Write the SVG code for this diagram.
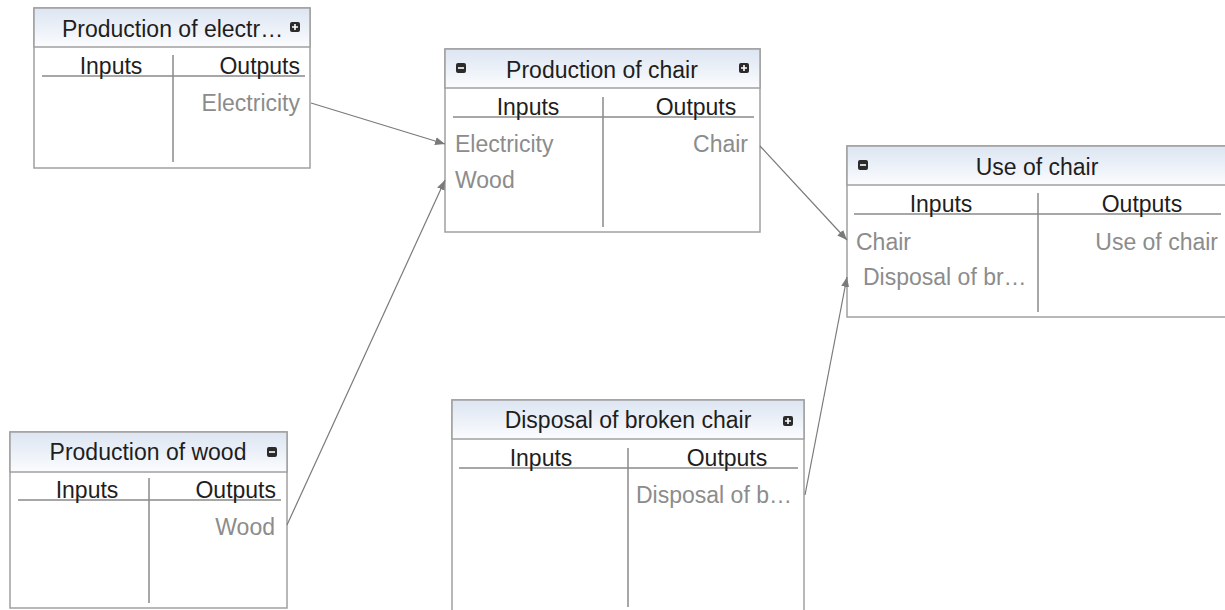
<svg xmlns="http://www.w3.org/2000/svg" width="1225" height="610" viewBox="0 0 1225 610">
<defs>
<linearGradient id="hdr" x1="0" y1="0" x2="0" y2="1">
<stop offset="0" stop-color="#dce5f2"/>
<stop offset="1" stop-color="#fbfcfe"/>
</linearGradient>
<marker id="arr" viewBox="0 0 10 10" refX="10" refY="5" markerWidth="10" markerHeight="10" markerUnits="userSpaceOnUse" orient="auto">
<path d="M0,1 L10,5 L0,9 Z" fill="#7a7a7a"/>
</marker>
<g id="plus"><rect x="-5" y="-5" width="10" height="10" rx="2" fill="#2b2b2b"/><path d="M-3,0 H3 M0,-3 V3" stroke="#fff" stroke-width="1.6"/></g>
<g id="minus"><rect x="-5" y="-5" width="10" height="10" rx="2" fill="#2b2b2b"/><path d="M-3,0 H3" stroke="#fff" stroke-width="1.6"/></g>
</defs>
<style>
text{font-family:"Liberation Sans",Arial,sans-serif;font-size:23px}
.box{fill:#fff;stroke:#a0a0a0;stroke-width:1.5}
.hdr{fill:url(#hdr);stroke:#a0a0a0;stroke-width:1.5}
.ln{stroke:#8a8a8a;stroke-width:1.5;fill:none}
.t{fill:#1e1e1e}
.g{fill:#8c8c8c}
.m{text-anchor:middle}
.e{text-anchor:end}
.c{stroke:#7a7a7a;stroke-width:1.2;fill:none;marker-end:url(#arr)}
</style>
<rect width="1225" height="610" fill="#fff"/>

<g id="node-electricity">
<rect class="box" x="34" y="8" width="276" height="160"/>
<rect class="hdr" x="34" y="8" width="276" height="39"/>
<text class="t" x="62" y="37">Production of electr…</text>
<use href="#plus" x="295" y="27"/>
<line class="ln" x1="173" y1="55" x2="173" y2="162"/>
<line class="ln" x1="42" y1="76" x2="305" y2="76"/>
<text class="t m" x="111" y="74">Inputs</text>
<text class="t e" x="300" y="74">Outputs</text>
<text class="g e" x="300" y="111">Electricity</text>
</g>

<g id="node-chair">
<rect class="box" x="445" y="49" width="315" height="183"/>
<rect class="hdr" x="445" y="49" width="315" height="39"/>
<text class="t m" x="602" y="78">Production of chair</text>
<use href="#minus" x="461" y="68"/>
<use href="#plus" x="744" y="68"/>
<line class="ln" x1="603" y1="97" x2="603" y2="227"/>
<line class="ln" x1="453" y1="117" x2="754" y2="117"/>
<text class="t m" x="528" y="115">Inputs</text>
<text class="t m" x="696" y="115">Outputs</text>
<text class="g" x="455" y="152">Electricity</text>
<text class="g" x="455" y="188">Wood</text>
<text class="g e" x="748" y="152">Chair</text>
</g>

<g id="node-use">
<rect class="box" x="847" y="146" width="400" height="171"/>
<rect class="hdr" x="847" y="146" width="400" height="39"/>
<text class="t m" x="1037" y="175">Use of chair</text>
<use href="#minus" x="863" y="165"/>
<line class="ln" x1="1038" y1="193" x2="1038" y2="312"/>
<line class="ln" x1="854" y1="214" x2="1221" y2="214"/>
<text class="t m" x="941" y="212">Inputs</text>
<text class="t m" x="1142" y="212">Outputs</text>
<text class="g" x="856" y="250">Chair</text>
<text class="g" x="863" y="285">Disposal of br…</text>
<text class="g e" x="1218" y="250">Use of chair</text>
</g>

<g id="node-wood">
<rect class="box" x="10" y="432" width="277" height="176"/>
<rect class="hdr" x="10" y="432" width="277" height="40"/>
<text class="t m" x="148" y="460">Production of wood</text>
<use href="#minus" x="272" y="452"/>
<line class="ln" x1="149" y1="478" x2="149" y2="603"/>
<line class="ln" x1="18" y1="500" x2="281" y2="500"/>
<text class="t m" x="87" y="498">Inputs</text>
<text class="t e" x="276" y="498">Outputs</text>
<text class="g e" x="275" y="535">Wood</text>
</g>

<g id="node-disposal">
<rect class="box" x="452" y="400" width="352" height="220"/>
<rect class="hdr" x="452" y="400" width="352" height="39"/>
<text class="t m" x="628" y="428">Disposal of broken chair</text>
<use href="#plus" x="788" y="421"/>
<line class="ln" x1="628" y1="448" x2="628" y2="607"/>
<line class="ln" x1="459" y1="468" x2="798" y2="468"/>
<text class="t m" x="541" y="466">Inputs</text>
<text class="t m" x="727" y="466">Outputs</text>
<text class="g" x="636" y="503">Disposal of b…</text>
</g>

<g id="connectors">
<line class="c" x1="311" y1="103" x2="445" y2="144"/>
<line class="c" x1="287" y1="525" x2="445" y2="180"/>
<line class="c" x1="760" y1="146" x2="847" y2="240"/>
<line class="c" x1="805" y1="495" x2="847" y2="277"/>
</g>
</svg>
